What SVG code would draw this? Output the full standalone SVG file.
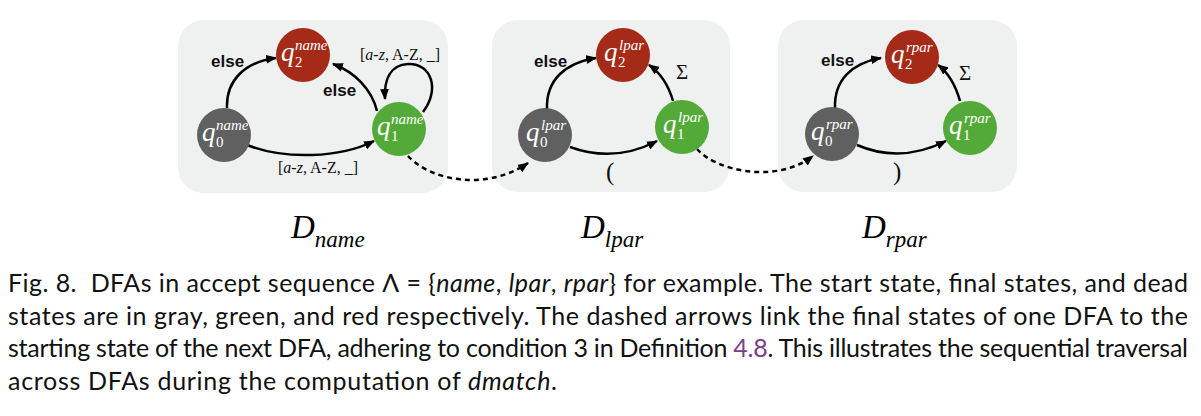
<svg xmlns="http://www.w3.org/2000/svg" width="1201" height="416" viewBox="0 0 1201 416">
<defs>
<style>
.panel{fill:#eff0f0;}
.gray{fill:#606060;}
.red{fill:#a52a18;}
.green{fill:#53aa38;}
.q{font-family:"Liberation Serif",serif;font-style:italic;font-size:27px;fill:#fff;}
.sup{font-family:"Liberation Serif",serif;font-style:italic;font-size:15px;fill:#fff;}
.sub{font-family:"Liberation Serif",serif;font-size:15px;fill:#fff;}
.edge{fill:none;stroke:#000;stroke-width:2.5;marker-end:url(#ah);}
.dash{fill:none;stroke:#000;stroke-width:2.5;stroke-dasharray:5 4;marker-end:url(#ah);}
.lbl{font-family:"Liberation Sans",sans-serif;font-weight:bold;font-size:17px;fill:#111;}
.sym{font-family:"Liberation Serif",serif;font-size:16px;fill:#111;}
.sig{font-family:"Liberation Serif",serif;font-size:21px;fill:#111;}
.par{font-family:"Liberation Serif",serif;font-size:25px;fill:#111;}
.it{font-style:italic;}
.title{font-family:"Liberation Serif",serif;font-style:italic;font-size:33px;fill:#000;}
.tsub{font-size:23px;}
.cap{font-family:Lato,"Open Sans",sans-serif;font-size:25px;fill:#111;white-space:pre;}
</style>
<marker id="ah" viewBox="0 0 10 8" refX="9" refY="4" markerWidth="11" markerHeight="9" markerUnits="userSpaceOnUse" orient="auto">
<path d="M0,0 L10,4 L0,8 z" fill="#000"/>
</marker>
</defs>

<g id="panels">
<rect class="panel" x="178" y="20" width="270" height="173" rx="26"/>
<rect class="panel" x="492" y="20" width="238" height="172" rx="26"/>
<rect class="panel" x="778" y="20" width="239" height="172" rx="26"/>
</g>

<g id="connectors">
<path class="edge" d="M227,108 C226,80 245,62 276,58"/>
<path class="edge" d="M377,111 C372,90 355,72 333,64"/>
<path class="edge" d="M423,112 C440,90 432,63 408,64 C390,65 384,80 385,99"/>
<path class="edge" d="M247,145 C285,160 340,158 374,141"/>
<path class="dash" d="M408,156 C430,180 485,192 528,163"/>

<path class="edge" d="M547,109 C546,80 565,63 596,58"/>
<path class="edge" d="M673,101 C669,87 662,74 649,65"/>
<path class="edge" d="M570,147 C600,158 630,155 657,141"/>
<path class="dash" d="M697,149 C715,170 775,185 813,156"/>

<path class="edge" d="M835,108 C834,80 852,63 881,58"/>
<path class="edge" d="M960,101 C956,87 950,74 938,65"/>
<path class="edge" d="M857,145 C887,158 918,155 946,141"/>

<text class="lbl" x="211" y="67">else</text>
<text class="lbl" x="323" y="96">else</text>
<text class="sym" x="360" y="60"><tspan>[</tspan><tspan class="it">a</tspan><tspan>-</tspan><tspan class="it">z</tspan><tspan>, A-Z, _]</tspan></text>
<text class="sym" x="278" y="173"><tspan>[</tspan><tspan class="it">a</tspan><tspan>-</tspan><tspan class="it">z</tspan><tspan>, A-Z, _]</tspan></text>

<text class="lbl" x="534" y="67">else</text>
<text class="sig" x="676" y="79">Σ</text>
<text class="par" x="606" y="180">(</text>

<text class="lbl" x="821" y="66">else</text>
<text class="sig" x="959" y="80">Σ</text>
<text class="par" x="893" y="180">)</text>
</g>

<g id="name_q0"><circle class="gray" cx="224" cy="135" r="27"/><text class="q" x="202" y="141">q</text><text class="sup" x="216" y="130">name</text><text class="sub" x="216" y="147">0</text></g>
<g id="name_q2"><circle class="red" cx="303" cy="55" r="27"/><text class="q" x="281" y="61">q</text><text class="sup" x="295" y="50">name</text><text class="sub" x="295" y="67">2</text></g>
<g id="name_q1"><circle class="green" cx="399" cy="129" r="27"/><text class="q" x="377" y="135">q</text><text class="sup" x="391" y="124">name</text><text class="sub" x="391" y="141">1</text></g>

<g id="lpar_q0"><circle class="gray" cx="545" cy="135" r="27"/><text class="q" x="526" y="141">q</text><text class="sup" x="541" y="130">lpar</text><text class="sub" x="540" y="147">0</text></g>
<g id="lpar_q2"><circle class="red" cx="623" cy="55" r="27"/><text class="q" x="604" y="61">q</text><text class="sup" x="619" y="50">lpar</text><text class="sub" x="618" y="67">2</text></g>
<g id="lpar_q1"><circle class="green" cx="682" cy="127" r="27"/><text class="q" x="663" y="133">q</text><text class="sup" x="678" y="122">lpar</text><text class="sub" x="677" y="139">1</text></g>

<g id="rpar_q0"><circle class="gray" cx="832" cy="134" r="27"/><text class="q" x="811" y="140">q</text><text class="sup" x="826" y="129">rpar</text><text class="sub" x="825" y="146">0</text></g>
<g id="rpar_q2"><circle class="red" cx="912" cy="57" r="27"/><text class="q" x="891" y="63">q</text><text class="sup" x="906" y="52">rpar</text><text class="sub" x="905" y="69">2</text></g>
<g id="rpar_q1"><circle class="green" cx="970" cy="128" r="27"/><text class="q" x="949" y="134">q</text><text class="sup" x="964" y="123">rpar</text><text class="sub" x="963" y="140">1</text></g>

<g id="titles">
<text class="title" x="291" y="238">D<tspan class="tsub" dy="9">name</tspan></text>
<text class="title" x="581" y="238">D<tspan class="tsub" dy="9">lpar</tspan></text>
<text class="title" x="862" y="238">D<tspan class="tsub" dy="9">rpar</tspan></text>
</g>

<g id="caption">
<text class="cap" x="8" y="292" textLength="1180">Fig. 8.  DFAs in accept sequence Λ = {<tspan class="it">name</tspan>, <tspan class="it">lpar</tspan>, <tspan class="it">rpar</tspan>} for example. The start state, final states, and dead</text>
<text class="cap" x="8" y="325" textLength="1180">states are in gray, green, and red respectively. The dashed arrows link the final states of one DFA to the</text>
<text class="cap" x="8" y="357" textLength="1180">starting state of the next DFA, adhering to condition 3 in Definition <tspan fill="#7b3c8e">4.8</tspan>. This illustrates the sequential traversal</text>
<text class="cap" x="8" y="390" textLength="549">across DFAs during the computation of <tspan class="it">dmatch</tspan>.</text>
</g>
</svg>
